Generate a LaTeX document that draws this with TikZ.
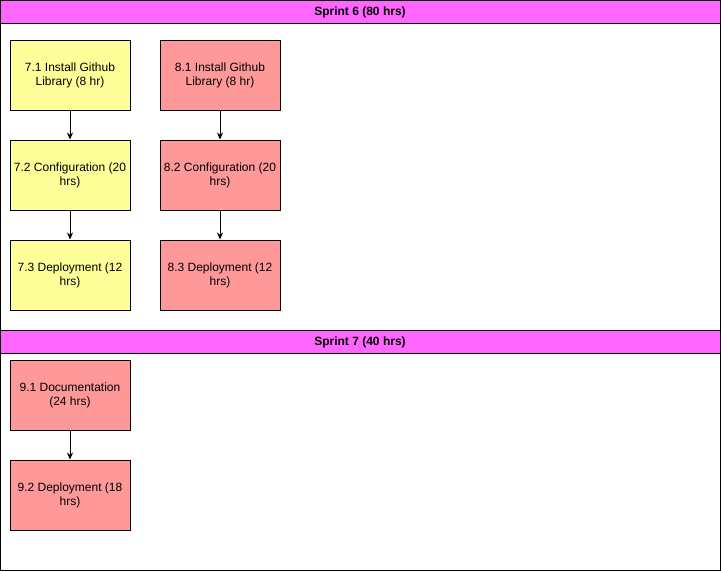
\documentclass[tikz,border=0pt]{standalone}
\usepackage{fontspec}
\setmainfont{Liberation Sans}
\usetikzlibrary{arrows.meta}
\definecolor{hdr}{HTML}{FF66FF}
\definecolor{yel}{HTML}{FFFF99}
\definecolor{red}{HTML}{FF9999}
\tikzset{
  task/.style={draw=black, line width=1pt, minimum width=120pt, minimum height=70pt, align=center, inner sep=0pt, font=\fontsize{12}{14}\selectfont},
  ytask/.style={task, fill=yel},
  rtask/.style={task, fill=red},
  hdrbox/.style={draw=black, line width=1pt, fill=hdr},
  lane/.style={draw=black, line width=1pt, fill=white},
  hdrtext/.style={font=\bfseries\fontsize{12}{14}\selectfont},
  conn/.style={-{Stealth[length=7pt,width=6pt]}, line width=0.8pt}
}
\begin{document}
\begin{tikzpicture}[x=1pt,y=-1pt]
\useasboundingbox (0,0) rectangle (721,571);
\fill[white] (0,0) rectangle (721,571);
% Sprint 6
\draw[lane] (0.5,0.5) rectangle (720,330);
\draw[hdrbox] (0.5,0.5) rectangle (720,23);
\node[hdrtext] (s6) at (360,12.5) {Sprint 6 (80 hrs)};
% Sprint 7
\draw[lane] (0.5,330) rectangle (720,570);
\draw[hdrbox] (0.5,330) rectangle (720,353);
\node[hdrtext] (s7) at (360,342.5) {Sprint 7 (40 hrs)};
% tasks
\node[ytask] (a1) at (70,75) {7.1 Install Github\\Library (8 hr)};
\node[ytask] (a2) at (70,175) {7.2 Configuration (20\\hrs)};
\node[ytask] (a3) at (70,275) {7.3 Deployment (12\\hrs)};
\node[rtask] (b1) at (220,75) {8.1 Install Github\\Library (8 hr)};
\node[rtask] (b2) at (220,175) {8.2 Configuration (20\\hrs)};
\node[rtask] (b3) at (220,275) {8.3 Deployment (12\\hrs)};
\node[rtask] (c1) at (70,395) {9.1 Documentation\\(24 hrs)};
\node[rtask] (c2) at (70,495) {9.2 Deployment (18\\hrs)};
\draw[conn] (a1) -- (a2);
\draw[conn] (a2) -- (a3);
\draw[conn] (b1) -- (b2);
\draw[conn] (b2) -- (b3);
\draw[conn] (c1) -- (c2);
\end{tikzpicture}
\end{document}
